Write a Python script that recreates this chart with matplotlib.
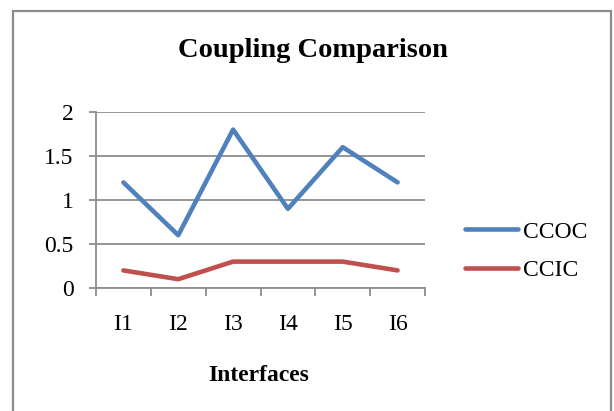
import numpy as np
import matplotlib.pyplot as plt
from matplotlib.patches import Rectangle

# data
interfaces = ['I1', 'I2', 'I3', 'I4', 'I5', 'I6']
ccoc = [1.2, 0.6, 1.8, 0.9, 1.6, 1.2]
ccic = [0.2, 0.1, 0.3, 0.3, 0.3, 0.2]

plt.rcParams['font.family'] = ['Liberation Serif', 'DejaVu Serif']

W, H = 614, 411
fig = plt.figure(figsize=(W / 100, H / 100), dpi=100)
ax = fig.add_axes([96 / W, 1 - 288 / H, (425 - 96) / W, (288 - 112) / H])

x = np.arange(1, len(interfaces) + 1)
ax.plot(x, ccoc, color='#4F81BD', lw=3.3, label='CCOC', solid_capstyle='round')
ax.plot(x, ccic, color='#C0504D', lw=3.3, label='CCIC', solid_capstyle='round')

ax.set_xlim(0.5, len(interfaces) + 0.5)
ax.set_ylim(0, 2)
ax.set_yticks([0, 0.5, 1, 1.5, 2])
ax.set_yticklabels(['0', '0.5', '1', '1.5', '2'])
ax.yaxis.grid(True, color='#8C8C8C', lw=1.3)
ax.set_axisbelow(True)

ax.set_xticks(x)
ax.set_xticklabels(interfaces)
ax.set_xticks(np.arange(0.5, len(interfaces) + 1), minor=True)
ax.tick_params(axis='x', which='major', length=0, pad=19, labelsize=17)
ax.tick_params(axis='x', which='minor', length=6, width=1.3, color='#8C8C8C', direction='out')
ax.tick_params(axis='y', length=5, width=1.3, color='#8C8C8C', pad=11, labelsize=17)

for s in ['top', 'right']:
    ax.spines[s].set_visible(False)
for s in ['left', 'bottom']:
    ax.spines[s].set_color('#8C8C8C')
    ax.spines[s].set_linewidth(1.3)

fig.text(313 / W, 1 - 57 / H, 'Coupling Comparison', ha='center', va='baseline',
         fontsize=20.5, fontweight='bold')
fig.text(259 / W, 1 - 381 / H, 'Interfaces', ha='center', va='baseline',
         fontsize=17, fontweight='bold')

fig.legend(loc='center left', bbox_to_anchor=(465 / W, 1 - 251 / H), frameon=False,
           fontsize=17, handlelength=2.25, handletextpad=0.22, labelspacing=0.7,
           borderpad=0, borderaxespad=0)

# outer chart border
fig.patches.append(Rectangle((12.5 / W, -0.05), (611 - 12.5) / W, 1 - 11 / H + 0.05,
                             transform=fig.transFigure, fill=False,
                             edgecolor='#8C8C8C', lw=1.6))

fig.savefig('out.png', dpi=100)
